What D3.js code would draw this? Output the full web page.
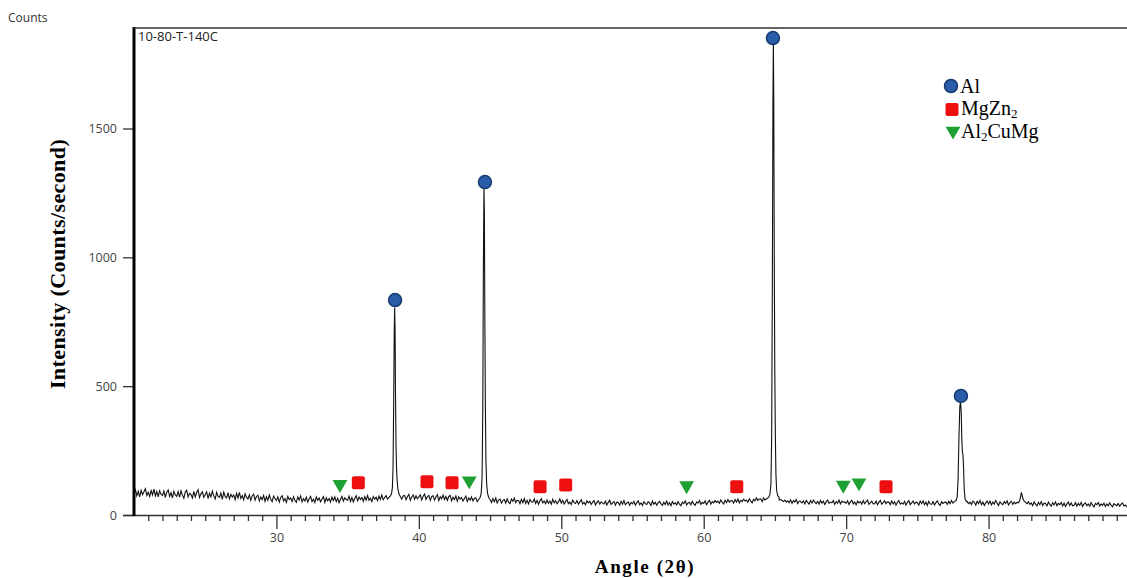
<!DOCTYPE html>
<html>
<head>
<meta charset="utf-8">
<script src="https://cdn.jsdelivr.net/npm/d3@7"></script>
<style>
  body { margin: 0; background: #fff; }
  svg { display: block; }
  .tick text { font-family: "Open Sans", sans-serif; font-size: 12.5px; fill: #444; }
  .tick line { stroke: #333; stroke-width: 1.3; }
  .domain { display: none; }
</style>
</head>
<body>
<div id="chart"></div>
<script>
// background counts, one row per degree, 0.1 deg step (20.0 .. 89.9)
const bgStart = 20, bgStep = 0.1;
const background = [
  84,98,74,92,70,96,79,90,102,76, 88,72,95,78,100,74,91,70,94,80,
  76,93,68,88,97,72,86,66,92,78, 72,91,69,94,77,65,89,96,70,84,
  80,66,92,70,87,98,68,82,90,69, 79,90,64,84,70,93,74,62,88,72,
  68,85,61,89,72,66,87,63,80,70, 78,60,84,66,88,64,75,59,82,68,
  62,78,57,74,81,58,72,77,55,70, 60,76,53,71,57,78,61,52,73,64,
  56,71,50,68,75,54,64,49,72,60, 66,52,71,56,49,70,58,74,51,63,
  54,69,50,63,72,52,61,48,70,57, 66,51,62,71,49,67,55,64,50,69,
  56,70,52,65,48,61,72,54,67,60, 57,73,53,68,51,64,75,55,70,60,
  68,53,71,58,76,57,65,52,72,61, 69,56,73,60,77,59,68,75,62,70,
  68,70,72,75,80,78,74,70,62,74, 76,59,72,80,57,70,78,61,74,63,
  70,78,58,73,81,60,71,76,57,72, 75,58,70,79,56,71,63,77,60,72,
  57,72,76,55,69,60,74,53,71,62, 68,54,64,73,52,66,58,70,55,65,
  66,52,69,57,64,54,68,60,62,58, 60,48,64,51,66,47,58,62,46,57,
  60,46,63,50,44,62,53,66,48,57, 56,44,61,48,64,45,57,43,60,51,
  50,62,45,57,42,55,63,47,54,44, 58,45,54,42,61,47,56,44,51,62,
  46,57,43,52,60,44,50,41,58,48, 45,56,42,51,59,43,49,40,55,47,
  53,41,50,56,39,48,55,42,51,46, 43,54,39,49,57,41,47,52,38,50,
  49,38,53,42,56,40,46,51,37,49, 43,53,38,48,55,40,47,37,52,44,
  41,52,46,37,54,42,49,38,47,53, 44,37,50,41,54,39,48,36,52,42,
  48,39,52,42,36,50,44,55,39,47, 49,40,53,43,38,51,46,56,41,49,
  45,55,40,50,57,42,52,47,56,49, 54,45,58,49,43,57,48,60,50,55,
  56,46,60,50,62,47,57,52,61,54, 58,49,63,54,47,61,55,66,57,62,
  63,52,66,58,62,60,62,64,66,68, 70,66,62,58,60,56,52,58,50,55,
  48,59,45,56,50,60,44,54,52,47, 55,43,57,49,42,56,46,58,50,44,
  53,42,57,46,54,41,51,58,45,50, 47,56,41,52,46,58,43,54,49,51,
  45,55,41,51,57,43,50,39,54,47, 52,42,56,44,51,58,41,48,54,43,
  44,54,40,50,57,42,48,55,44,51, 50,40,55,43,52,38,49,56,42,47,
  42,53,38,49,56,40,47,54,43,50, 48,38,54,44,55,40,50,37,53,43,
  41,52,39,48,55,43,37,51,45,49, 50,41,53,44,56,46,50,52,55,60,
  52,50,48,47,49,52,44,50,41,54, 49,38,53,44,56,40,50,37,47,54,
  43,54,39,50,42,56,46,37,51,44, 40,52,45,55,39,48,53,41,50,44,
  49,41,53,48,47,46,48,44,51,41, 47,36,51,42,35,49,40,52,37,46,
  45,35,50,41,34,48,39,51,36,45, 40,49,35,46,33,43,50,37,47,36,
  38,48,34,45,37,49,33,42,47,36, 43,34,48,38,31,45,40,49,35,43,
  37,46,33,43,36,47,38,32,44,40, 36,45,34,41,47,35,39,32,44,38
];

// diffraction peak profiles [angle, counts]
const peak38 = [[37.9,68],[38.0,74],[38.08,82],[38.14,105],[38.19,190],[38.23,420],[38.27,700],[38.3,805],
  [38.33,720],[38.36,470],[38.4,260],[38.44,170],[38.48,130],[38.53,100],[38.6,82],[38.7,72]];
const peak44 = [[44.2,60],[44.3,68],[44.38,85],[44.44,150],[44.49,420],[44.53,950],[44.57,1270],[44.6,1180],
  [44.63,800],[44.67,420],[44.71,210],[44.76,120],[44.82,85],[44.9,68],[45.0,60]];
const peak65 = [[64.4,62],[64.55,68],[64.65,80],[64.72,120],[64.77,300],[64.82,900],[64.86,1600],[64.89,1840],
  [64.92,1600],[64.95,1050],[64.99,560],[65.03,310],[65.07,160],[65.12,95],[65.2,75],[65.3,68]];
const peak78 = [[77.6,52],[77.72,56],[77.8,72],[77.86,140],[77.92,300],[77.98,420],[78.03,440],[78.08,400],
  [78.12,300],[78.16,245],[78.2,235],[78.24,190],[78.29,100],[78.35,62],[78.45,52]];
const peak82 = [[82.1,48],[82.18,55],[82.25,70],[82.3,88],[82.35,78],[82.42,62],[82.5,54],[82.6,49]];
const peaks = [peak38, peak44, peak65, peak78, peak82];

// phase markers [angle, counts]
const alMarks = [[38.33,834],[44.64,1292],[64.86,1851],[78.06,462]];
const mgzn2Marks = [[35.75,125],[40.57,129],[42.33,125],[48.51,110],[50.31,116],[62.32,110],[72.8,110]];
const al2cumgMarks = [[34.46,119],[43.54,133],[58.8,114],[69.8,116],[70.9,125]];

const xTicksMajor = [30, 40, 50, 60, 70, 80];
const yTicks = [0, 500, 1000, 1500];

const W = 1127, H = 578;
const x = d3.scaleLinear().domain([20, 90]).range([134, 1131]);
const y = d3.scaleLinear().domain([0, 1890]).range([515, 28]);

const svg = d3.select('#chart').append('svg')
  .attr('width', W).attr('height', H);

svg.append('rect').attr('width', W).attr('height', H).attr('fill', '#fff');

// merge background with peak profiles
let pts = background.map((c, i) => [bgStart + i * bgStep, c])
  .filter(p => !peaks.some(pk => p[0] >= pk[0][0] && p[0] <= pk[pk.length - 1][0]));
peaks.forEach(pk => { pts = pts.concat(pk); });
pts.sort((a, b) => a[0] - b[0]);

svg.append('clipPath').attr('id', 'clip')
  .append('rect').attr('x', 134).attr('y', 0).attr('width', W - 134).attr('height', 516);

svg.append('path')
  .datum(pts)
  .attr('clip-path', 'url(#clip)')
  .attr('fill', 'none')
  .attr('stroke', '#111')
  .attr('stroke-width', 1.1)
  .attr('d', d3.line().x(d => x(d[0])).y(d => y(d[1])));

// x axis: minor and major ticks
svg.append('line').attr('x1', 123).attr('x2', W).attr('y1', 515.5).attr('y2', 515.5)
  .attr('stroke', '#333').attr('stroke-width', 1.5);

svg.append('g').attr('transform', 'translate(0,515)')
  .call(d3.axisBottom(x).tickValues(d3.range(21, 90).filter(v => v % 10)).tickSize(6).tickFormat(''));
svg.append('g').attr('transform', 'translate(0,515)')
  .call(d3.axisBottom(x).tickValues(xTicksMajor).tickSize(14).tickPadding(4).tickFormat(d3.format('d')));

// y axis
svg.append('g').attr('transform', 'translate(134,0)')
  .call(d3.axisLeft(y).tickValues(yTicks).tickSize(11).tickPadding(6).tickFormat(d3.format('d')));

svg.append('line').attr('x1', 134).attr('x2', 134).attr('y1', 27).attr('y2', 516)
  .attr('stroke', '#000').attr('stroke-width', 3);
svg.append('line').attr('x1', 134).attr('x2', W).attr('y1', 28).attr('y2', 28)
  .attr('stroke', '#333').attr('stroke-width', 1.6);

// texts
svg.append('text').attr('x', 8).attr('y', 22)
  .style('font-family', '"Open Sans", sans-serif').style('font-size', '12px').attr('fill', '#333')
  .text('Counts');
svg.append('text').attr('x', 138).attr('y', 41)
  .style('font-family', '"Open Sans", sans-serif').style('font-size', '13px').attr('fill', '#222')
  .text('10-80-T-140C');

svg.append('text')
  .attr('transform', 'translate(65,264) rotate(-90)')
  .attr('text-anchor', 'middle')
  .style('font-family', '"Liberation Serif", serif').style('font-size', '22px').style('font-weight', 'bold')
  .style('letter-spacing', '0.4px')
  .text('Intensity (Counts/second)');
svg.append('text')
  .attr('x', 645).attr('y', 573)
  .attr('text-anchor', 'middle')
  .style('font-family', '"Liberation Serif", serif').style('font-size', '19px').style('font-weight', 'bold')
  .style('letter-spacing', '1.6px')
  .text('Angle (2θ)');

// markers
const blue = '#2a5ca8', blueEdge = '#173a70', red = '#ee1010', green = '#1ea032';
const triDown = d3.symbol().type(d3.symbolTriangle).size(95);

svg.append('g').selectAll('circle').data(alMarks).join('circle')
  .attr('cx', d => x(d[0])).attr('cy', d => y(d[1])).attr('r', 6.5)
  .attr('fill', blue).attr('stroke', blueEdge).attr('stroke-width', 1.5);

svg.append('g').selectAll('rect').data(mgzn2Marks).join('rect')
  .attr('x', d => x(d[0]) - 6.5).attr('y', d => y(d[1]) - 6.5)
  .attr('width', 13).attr('height', 13).attr('rx', 2)
  .attr('fill', red);

svg.append('g').selectAll('path').data(al2cumgMarks).join('path')
  .attr('transform', d => `translate(${x(d[0])},${y(d[1])}) rotate(180)`)
  .attr('d', triDown)
  .attr('fill', green);

// legend
const legend = svg.append('g').style('font-family', '"Liberation Serif", serif').style('font-size', '20px');
legend.append('circle').attr('cx', 951).attr('cy', 86).attr('r', 6.5)
  .attr('fill', blue).attr('stroke', blueEdge).attr('stroke-width', 1.5);
legend.append('text').attr('x', 960).attr('y', 92.5).text('Al');

legend.append('rect').attr('x', 945.5).attr('y', 103).attr('width', 13).attr('height', 13).attr('rx', 2).attr('fill', red);
const t2 = legend.append('text').attr('x', 961).attr('y', 115);
t2.append('tspan').text('MgZn');
t2.append('tspan').attr('dy', 3).style('font-size', '13px').text('2');

legend.append('path').attr('transform', 'translate(953,131) rotate(180)').attr('d', triDown).attr('fill', green);
const t3 = legend.append('text').attr('x', 961).attr('y', 138);
t3.append('tspan').text('Al');
t3.append('tspan').attr('dy', 3).style('font-size', '13px').text('2');
t3.append('tspan').attr('dy', -3).text('CuMg');
</script>
</body>
</html>
